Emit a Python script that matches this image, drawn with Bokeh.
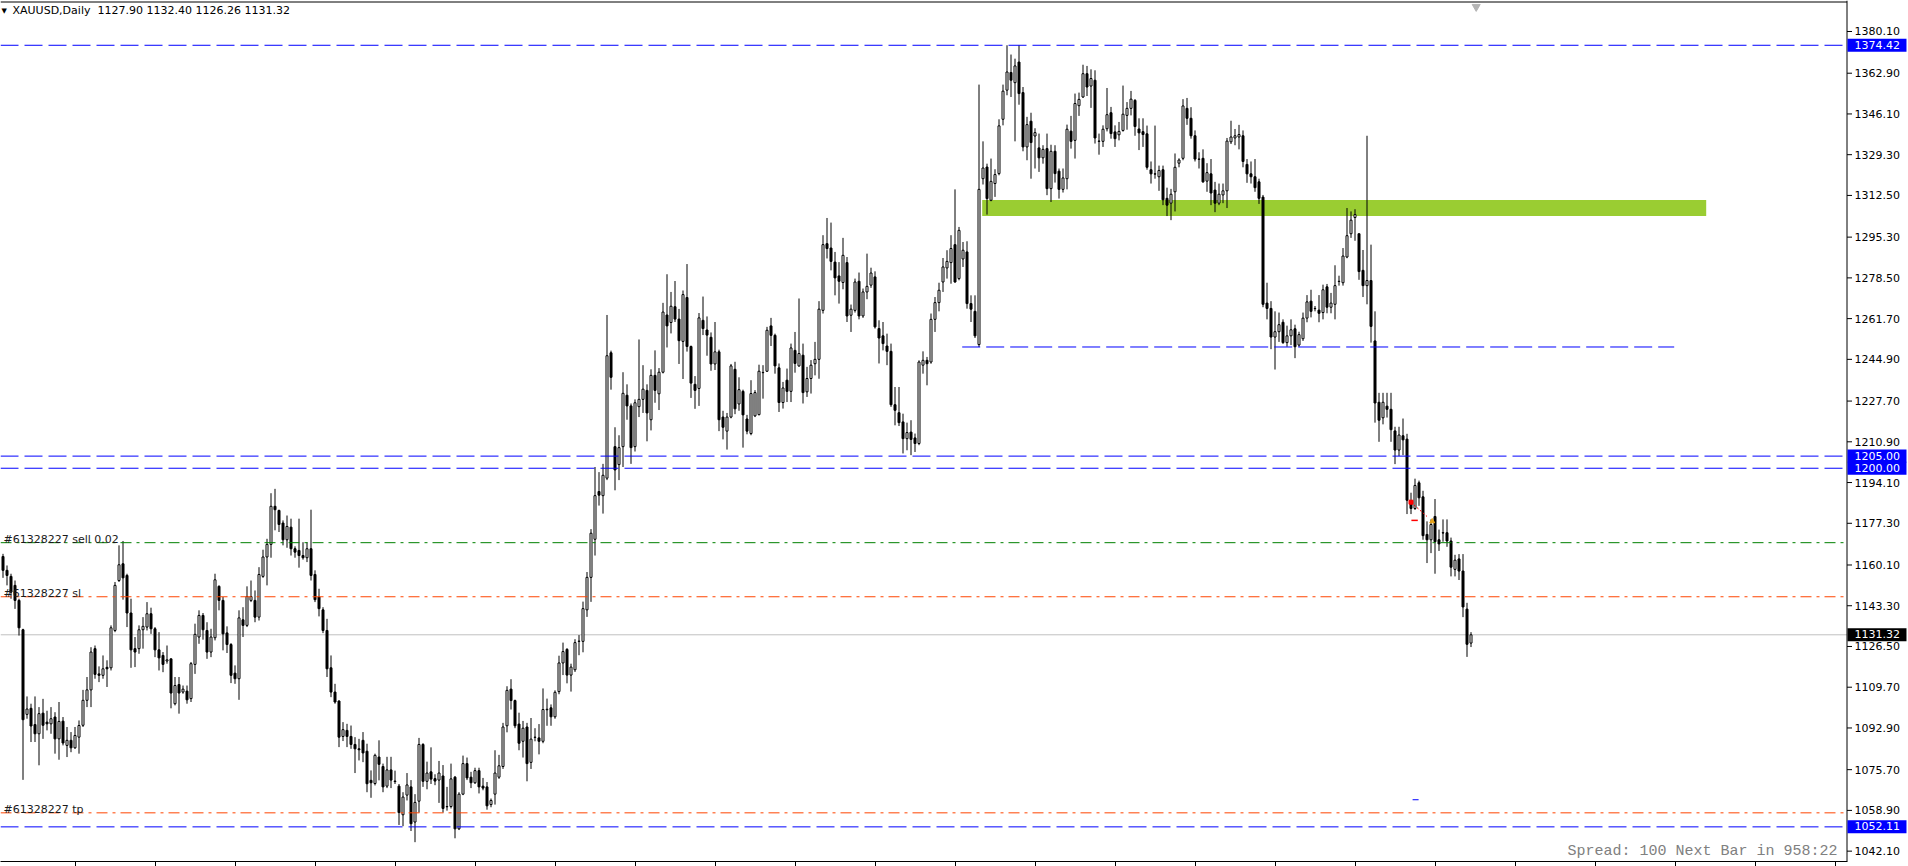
import numpy as np
from bokeh.plotting import figure
from bokeh.models import (Range1d, FixedTicker, PrintfTickFormatter, Span, Label, LabelSet,
                          ColumnDataSource, LinearAxis)
from bokeh.core.properties import value
from bokeh.embed import file_html
from bokeh.resources import INLINE

symbol = "XAUUSD,Daily"

opens = [
    1163.6, 1157.9, 1155.4, 1151.7, 1145.5, 1133.4, 1098.5, 1101.0, 1094.3, 1090.5,
    1099.0, 1095.3, 1094.6, 1097.4, 1088.4, 1095.7, 1085.7, 1087.8, 1084.7, 1089.1,
    1094.0, 1104.3, 1108.6, 1125.6, 1115.2, 1114.6, 1117.9, 1117.7, 1133.1, 1153.7,
    1160.6, 1155.8, 1140.3, 1125.6, 1125.6, 1133.4, 1134.5, 1140.0, 1133.8, 1125.1,
    1122.8, 1120.5, 1121.4, 1102.9, 1110.8, 1107.7, 1108.1, 1105.0, 1119.1, 1130.4,
    1139.3, 1133.1, 1124.2, 1130.1, 1151.3, 1145.5, 1132.1, 1127.3, 1115.5, 1113.2,
    1137.5, 1135.2, 1145.5, 1145.5, 1138.6, 1155.4, 1163.4, 1168.6, 1184.3, 1182.6,
    1177.4, 1170.5, 1175.7, 1166.8, 1166.1, 1164.0, 1163.1, 1166.8, 1156.2, 1146.9,
    1141.6, 1133.1, 1117.7, 1107.7, 1104.0, 1089.4, 1091.9, 1089.4, 1086.1, 1084.3,
    1087.8, 1083.3, 1071.3, 1070.0, 1080.9, 1077.0, 1068.9, 1075.6, 1071.0, 1068.9,
    1057.1, 1065.2, 1068.6, 1054.1, 1062.7, 1086.1, 1070.9, 1074.8, 1072.0, 1071.4,
    1073.1, 1060.4, 1060.5, 1072.6, 1051.3, 1065.6, 1078.2, 1072.6, 1070.3, 1075.3,
    1068.9, 1068.6, 1061.3, 1065.6, 1072.6, 1077.0, 1093.8, 1108.9, 1104.2, 1094.5,
    1087.4, 1093.3, 1078.7, 1089.0, 1088.8, 1087.4, 1100.4, 1101.2, 1097.5, 1107.9,
    1119.7, 1125.3, 1114.7, 1116.9, 1128.6, 1128.6, 1141.6, 1155.0, 1170.7, 1190.4,
    1188.7, 1195.9, 1247.6, 1208.9, 1201.5, 1208.9, 1230.1, 1225.7, 1208.9, 1225.4,
    1228.4, 1232.1, 1220.0, 1238.3, 1230.7, 1239.6, 1263.2, 1260.1, 1266.6, 1261.5,
    1252.3, 1270.4, 1250.2, 1234.6, 1232.9, 1261.0, 1257.0, 1254.0, 1243.0, 1248.0,
    1221.1, 1215.3, 1221.1, 1240.8, 1226.5, 1231.7, 1220.3, 1214.3, 1221.6, 1222.1,
    1239.4, 1240.0, 1258.7, 1254.8, 1241.4, 1227.1, 1236.3, 1231.7, 1248.6, 1242.2,
    1246.6, 1231.5, 1237.0, 1243.1, 1244.9, 1265.1, 1292.6, 1290.8, 1285.0, 1279.3,
    1276.6, 1284.8, 1263.1, 1265.1, 1277.1, 1262.8, 1272.7, 1275.5, 1278.9, 1257.6,
    1254.6, 1250.4, 1248.2, 1226.2, 1222.9, 1219.1, 1212.2, 1214.9, 1212.5, 1210.2,
    1242.5, 1244.5, 1243.8, 1261.4, 1268.3, 1276.8, 1282.6, 1284.8, 1292.2, 1278.2,
    1286.3, 1289.2, 1267.9, 1264.7, 1251.0, 1319.4, 1324.2, 1310.5, 1317.4, 1321.5,
    1343.9, 1355.9, 1363.2, 1359.0, 1367.5, 1354.9, 1332.5, 1343.1, 1337.0, 1332.1,
    1328.0, 1331.8, 1315.3, 1330.7, 1322.5, 1315.0, 1319.4, 1339.0, 1335.2, 1349.5,
    1353.1, 1362.7, 1357.6, 1360.0, 1334.9, 1334.8, 1340.0, 1346.6, 1338.7, 1337.5,
    1339.3, 1345.5, 1348.4, 1351.7, 1339.9, 1338.8, 1337.9, 1323.1, 1321.4, 1320.2,
    1323.1, 1311.3, 1309.3, 1314.0, 1325.8, 1327.8, 1348.4, 1344.3, 1337.1, 1327.5,
    1327.8, 1318.4, 1321.4, 1314.7, 1309.3, 1312.7, 1314.4, 1334.6, 1336.2, 1336.6,
    1337.1, 1325.3, 1321.4, 1320.2, 1318.1, 1311.8, 1268.1, 1265.9, 1254.1, 1256.3,
    1260.2, 1251.8, 1254.6, 1257.5, 1250.8, 1253.4, 1261.9, 1268.9, 1265.9, 1265.2,
    1264.2, 1274.8, 1266.4, 1267.6, 1277.0, 1276.5, 1287.1, 1296.7, 1303.4, 1296.7,
    1281.6, 1275.3, 1277.4, 1252.5, 1227.2, 1220.8, 1225.6, 1224.3, 1215.4, 1207.5,
    1213.4, 1212.0, 1186.5, 1183.4, 1194.0, 1188.2, 1172.7, 1170.5, 1180.1, 1170.5,
    1173.4, 1173.4, 1170.0, 1158.3, 1162.6, 1157.6, 1141.9, 1127.90,
]

highs = [
    1164.7, 1159.9, 1156.5, 1153.7, 1146.2, 1133.8, 1105.9, 1102.9, 1105.9, 1101.5,
    1104.9, 1100.0, 1101.5, 1099.4, 1103.6, 1097.4, 1093.3, 1091.2, 1093.3, 1096.0,
    1108.6, 1113.9, 1126.2, 1126.9, 1118.3, 1122.8, 1120.8, 1135.2, 1153.1, 1168.2,
    1170.0, 1156.5, 1146.2, 1130.4, 1135.2, 1138.6, 1144.8, 1142.5, 1134.5, 1132.4,
    1124.2, 1126.9, 1121.4, 1113.9, 1113.9, 1110.4, 1110.4, 1120.1, 1135.9, 1141.4,
    1140.3, 1136.5, 1133.8, 1156.5, 1151.7, 1146.9, 1134.8, 1127.9, 1118.7, 1141.4,
    1142.7, 1151.3, 1153.7, 1149.6, 1159.2, 1166.4, 1170.9, 1189.7, 1191.5, 1182.9,
    1178.5, 1180.5, 1179.2, 1167.8, 1179.2, 1169.5, 1169.5, 1182.9, 1157.9, 1150.3,
    1142.7, 1137.9, 1122.8, 1111.1, 1104.3, 1095.3, 1094.6, 1093.9, 1089.1, 1088.4,
    1091.2, 1086.4, 1075.4, 1082.3, 1087.8, 1078.2, 1081.0, 1081.0, 1075.3, 1069.8,
    1066.4, 1074.3, 1071.4, 1065.6, 1088.8, 1086.6, 1079.0, 1084.9, 1073.8, 1079.3,
    1077.6, 1068.6, 1078.2, 1073.1, 1066.4, 1081.5, 1080.7, 1074.8, 1076.5, 1076.5,
    1072.3, 1070.6, 1063.8, 1083.7, 1081.8, 1095.0, 1110.1, 1113.0, 1104.6, 1099.2,
    1095.8, 1095.0, 1097.0, 1092.8, 1094.5, 1109.2, 1105.0, 1102.6, 1108.4, 1122.7,
    1128.1, 1125.8, 1119.4, 1129.5, 1131.2, 1145.0, 1157.2, 1174.9, 1200.5, 1198.4,
    1201.8, 1263.2, 1248.5, 1216.9, 1213.6, 1239.6, 1234.6, 1226.7, 1228.4, 1253.1,
    1242.5, 1234.6, 1240.8, 1248.6, 1241.3, 1268.2, 1280.0, 1272.7, 1277.2, 1265.7,
    1273.3, 1284.2, 1250.6, 1238.0, 1264.0, 1270.8, 1262.6, 1256.0, 1260.3, 1248.9,
    1223.7, 1222.8, 1243.0, 1243.9, 1237.5, 1232.4, 1222.0, 1236.3, 1232.2, 1242.7,
    1242.5, 1258.3, 1262.0, 1255.5, 1243.2, 1235.6, 1241.1, 1251.4, 1256.2, 1270.0,
    1251.4, 1241.8, 1244.6, 1252.1, 1268.9, 1296.1, 1303.2, 1301.3, 1289.2, 1285.0,
    1295.0, 1287.1, 1267.5, 1278.2, 1280.7, 1274.1, 1288.5, 1282.7, 1281.2, 1261.0,
    1260.3, 1255.5, 1251.4, 1233.5, 1233.5, 1222.5, 1218.8, 1219.8, 1214.3, 1244.5,
    1248.2, 1245.9, 1263.8, 1270.6, 1276.5, 1286.7, 1289.9, 1296.1, 1315.0, 1299.5,
    1293.3, 1293.6, 1271.3, 1271.3, 1358.2, 1334.8, 1325.6, 1327.7, 1323.3, 1343.9,
    1358.2, 1374.42, 1370.6, 1368.9, 1374.42, 1357.2, 1344.9, 1346.6, 1340.2, 1338.0,
    1333.2, 1338.0, 1333.4, 1333.2, 1323.6, 1323.6, 1341.7, 1345.3, 1354.5, 1354.9,
    1366.4, 1365.9, 1364.5, 1364.1, 1338.0, 1341.4, 1356.8, 1349.0, 1341.4, 1342.8,
    1357.8, 1351.0, 1355.6, 1352.2, 1344.3, 1344.3, 1341.3, 1326.5, 1341.3, 1324.8,
    1324.8, 1315.7, 1315.2, 1329.8, 1327.8, 1352.2, 1352.7, 1348.9, 1339.3, 1330.3,
    1331.5, 1325.8, 1327.5, 1318.1, 1317.4, 1317.4, 1336.2, 1343.3, 1339.9, 1341.6,
    1339.3, 1327.5, 1326.5, 1327.5, 1319.4, 1312.7, 1276.5, 1268.9, 1264.7, 1264.2,
    1261.4, 1258.8, 1261.4, 1259.2, 1256.3, 1264.2, 1271.4, 1273.6, 1266.9, 1271.4,
    1275.7, 1276.0, 1272.3, 1283.7, 1279.4, 1290.8, 1307.3, 1305.9, 1306.8, 1296.7,
    1290.0, 1337.1, 1292.2, 1264.7, 1231.1, 1231.1, 1231.1, 1231.1, 1217.1, 1217.1,
    1220.5, 1214.2, 1189.9, 1195.7, 1194.9, 1190.7, 1178.1, 1178.9, 1187.3, 1174.7,
    1178.9, 1178.9, 1171.4, 1164.3, 1164.6, 1164.6, 1144.5, 1132.40,
]

lows = [
    1154.8, 1151.7, 1146.2, 1142.0, 1131.0, 1071.5, 1096.7, 1087.1, 1087.1, 1077.5,
    1088.4, 1091.9, 1090.5, 1082.3, 1079.8, 1085.7, 1080.9, 1082.9, 1084.3, 1082.3,
    1093.3, 1101.5, 1101.5, 1113.2, 1111.8, 1113.2, 1109.8, 1116.6, 1132.4, 1153.1,
    1145.8, 1134.5, 1117.7, 1118.0, 1123.5, 1125.6, 1133.1, 1131.7, 1122.1, 1116.6,
    1115.9, 1119.4, 1101.0, 1102.2, 1098.8, 1107.0, 1102.9, 1103.6, 1115.2, 1127.6,
    1129.3, 1121.4, 1122.1, 1129.0, 1141.4, 1124.9, 1123.8, 1111.4, 1111.1, 1104.5,
    1130.4, 1134.5, 1144.8, 1136.5, 1137.2, 1154.8, 1151.7, 1163.1, 1174.4, 1173.7,
    1168.2, 1167.2, 1164.0, 1163.1, 1159.0, 1162.3, 1161.3, 1153.7, 1144.8, 1138.9,
    1132.0, 1113.9, 1105.6, 1102.9, 1085.0, 1087.5, 1085.0, 1084.3, 1074.3, 1079.5,
    1078.8, 1066.4, 1064.1, 1069.2, 1071.3, 1066.4, 1068.1, 1068.1, 1069.8, 1052.9,
    1052.4, 1063.0, 1050.4, 1045.8, 1058.0, 1068.6, 1067.6, 1069.8, 1069.3, 1062.0,
    1058.0, 1058.8, 1059.7, 1047.4, 1050.8, 1065.2, 1071.4, 1068.1, 1069.8, 1065.9,
    1067.2, 1059.2, 1060.2, 1061.3, 1071.9, 1076.0, 1091.1, 1100.5, 1092.8, 1083.7,
    1080.7, 1070.9, 1076.0, 1087.4, 1082.0, 1086.6, 1093.8, 1093.8, 1096.7, 1106.8,
    1114.7, 1111.3, 1107.9, 1116.0, 1122.9, 1124.1, 1138.7, 1144.9, 1164.0, 1184.6,
    1181.3, 1195.1, 1232.4, 1190.9, 1195.1, 1200.5, 1220.0, 1201.8, 1206.9, 1221.1,
    1222.8, 1211.1, 1215.6, 1227.0, 1224.0, 1239.1, 1249.8, 1255.6, 1260.3, 1243.0,
    1236.8, 1248.1, 1229.0, 1224.5, 1225.7, 1254.9, 1246.4, 1240.2, 1240.5, 1215.3,
    1211.9, 1207.7, 1220.6, 1222.3, 1223.7, 1208.5, 1214.0, 1213.6, 1221.1, 1221.8,
    1228.7, 1239.7, 1250.4, 1239.0, 1223.2, 1224.6, 1227.3, 1227.3, 1239.4, 1241.8,
    1226.7, 1229.4, 1230.8, 1238.3, 1236.9, 1263.8, 1286.5, 1281.6, 1271.3, 1267.9,
    1273.8, 1260.3, 1256.2, 1264.2, 1261.4, 1262.0, 1269.7, 1274.4, 1257.6, 1243.2,
    1248.6, 1242.5, 1225.3, 1217.7, 1217.4, 1206.1, 1207.4, 1205.4, 1206.7, 1209.5,
    1239.0, 1234.2, 1243.1, 1256.2, 1264.7, 1272.7, 1278.2, 1276.1, 1276.5, 1277.5,
    1283.0, 1265.8, 1260.3, 1253.7, 1250.0, 1317.0, 1304.6, 1310.1, 1311.9, 1320.8,
    1341.4, 1353.8, 1353.1, 1334.8, 1349.9, 1330.7, 1327.0, 1319.4, 1323.6, 1322.2,
    1325.6, 1312.6, 1309.8, 1317.8, 1311.2, 1313.7, 1315.0, 1331.8, 1327.7, 1345.3,
    1352.7, 1353.5, 1348.6, 1333.9, 1329.3, 1332.5, 1338.9, 1335.9, 1332.5, 1335.2,
    1338.8, 1339.6, 1345.5, 1337.1, 1331.2, 1332.5, 1323.1, 1317.4, 1319.4, 1314.4,
    1308.5, 1304.0, 1302.3, 1305.9, 1324.1, 1327.0, 1341.6, 1335.9, 1326.5, 1323.6,
    1317.7, 1314.0, 1308.5, 1305.6, 1308.5, 1309.3, 1307.3, 1333.7, 1333.2, 1331.5,
    1324.1, 1317.7, 1317.4, 1314.0, 1309.0, 1266.4, 1261.4, 1249.1, 1240.7, 1252.1,
    1251.3, 1250.1, 1250.8, 1245.4, 1250.1, 1252.5, 1260.2, 1262.2, 1264.7, 1260.2,
    1261.4, 1263.9, 1263.9, 1261.4, 1275.3, 1275.3, 1286.6, 1295.0, 1293.8, 1277.7,
    1270.6, 1267.6, 1251.8, 1218.8, 1210.9, 1218.1, 1220.9, 1210.9, 1201.7, 1205.0,
    1205.4, 1181.1, 1181.1, 1182.8, 1184.5, 1170.5, 1160.9, 1165.0, 1156.5, 1165.9,
    1169.7, 1167.6, 1155.4, 1155.4, 1153.9, 1138.6, 1122.2, 1126.26,
]

closes = [
    1157.9, 1155.8, 1148.9, 1145.5, 1134.2, 1096.3, 1100.7, 1093.7, 1090.5, 1098.8,
    1094.0, 1094.6, 1096.7, 1088.4, 1095.6, 1086.7, 1087.8, 1084.7, 1089.8, 1093.9,
    1104.3, 1108.6, 1124.2, 1115.0, 1114.6, 1117.3, 1117.3, 1134.2, 1151.7, 1160.2,
    1154.8, 1140.3, 1125.1, 1124.2, 1133.4, 1134.8, 1140.0, 1133.8, 1125.1, 1121.8,
    1119.1, 1121.0, 1107.3, 1110.4, 1107.3, 1108.9, 1104.5, 1119.4, 1131.5, 1139.3,
    1133.4, 1124.2, 1130.4, 1154.0, 1145.5, 1131.7, 1127.3, 1114.6, 1113.2, 1138.3,
    1135.2, 1147.1, 1147.1, 1138.6, 1156.2, 1163.4, 1168.6, 1184.3, 1182.9, 1176.8,
    1170.5, 1176.0, 1166.8, 1165.4, 1164.0, 1163.1, 1166.8, 1155.8, 1145.8, 1142.1,
    1133.1, 1117.3, 1107.7, 1103.6, 1089.1, 1092.2, 1089.4, 1086.1, 1084.3, 1083.9,
    1082.6, 1069.9, 1070.3, 1081.6, 1077.9, 1068.6, 1075.6, 1071.4, 1070.8, 1058.0,
    1064.4, 1069.4, 1053.4, 1062.2, 1086.1, 1070.9, 1074.3, 1071.8, 1071.0, 1074.3,
    1059.7, 1060.5, 1071.9, 1051.3, 1065.6, 1078.2, 1072.3, 1070.3, 1075.3, 1068.6,
    1068.1, 1060.8, 1063.0, 1074.3, 1077.3, 1093.3, 1108.4, 1104.2, 1093.8, 1086.6,
    1092.8, 1078.2, 1088.3, 1089.1, 1087.4, 1100.5, 1100.6, 1097.5, 1107.6, 1119.7,
    1124.4, 1114.7, 1118.0, 1128.1, 1128.7, 1142.1, 1155.0, 1173.2, 1188.7, 1188.9,
    1197.1, 1246.4, 1237.5, 1199.3, 1208.5, 1230.9, 1225.7, 1208.5, 1227.0, 1228.4,
    1232.6, 1222.8, 1238.3, 1232.1, 1239.6, 1264.4, 1258.7, 1266.8, 1261.5, 1252.6,
    1271.6, 1250.2, 1235.1, 1232.1, 1262.0, 1257.6, 1254.9, 1243.0, 1248.0, 1220.0,
    1216.9, 1221.1, 1242.2, 1224.5, 1232.4, 1222.0, 1215.3, 1230.8, 1231.2, 1240.0,
    1239.5, 1256.9, 1254.8, 1242.2, 1227.1, 1233.1, 1231.7, 1249.6, 1243.2, 1247.3,
    1231.2, 1237.0, 1242.5, 1244.9, 1265.6, 1292.2, 1290.6, 1285.3, 1278.5, 1277.1,
    1287.8, 1262.8, 1265.6, 1276.8, 1262.8, 1272.7, 1275.0, 1280.5, 1258.3, 1253.7,
    1251.4, 1248.2, 1226.2, 1223.9, 1218.8, 1212.2, 1214.7, 1211.9, 1210.2, 1243.8,
    1244.5, 1243.1, 1261.4, 1268.3, 1273.4, 1283.0, 1285.3, 1290.6, 1276.8, 1298.1,
    1289.9, 1267.9, 1265.6, 1254.6, 1315.0, 1323.8, 1311.2, 1318.3, 1321.1, 1341.2,
    1355.5, 1363.4, 1360.0, 1365.9, 1354.5, 1332.5, 1341.7, 1334.3, 1338.4, 1328.0,
    1331.5, 1315.3, 1330.7, 1321.5, 1315.0, 1319.7, 1339.8, 1334.8, 1350.4, 1352.1,
    1362.7, 1357.2, 1360.7, 1336.2, 1334.8, 1339.8, 1345.8, 1338.0, 1335.9, 1338.9,
    1346.0, 1348.4, 1352.2, 1340.9, 1338.3, 1337.6, 1324.1, 1321.4, 1321.3, 1322.8,
    1310.7, 1308.5, 1313.0, 1324.1, 1327.1, 1349.4, 1344.3, 1337.1, 1327.5, 1327.4,
    1318.1, 1321.9, 1313.5, 1309.3, 1313.0, 1314.4, 1334.9, 1336.6, 1337.1, 1337.6,
    1326.5, 1321.4, 1320.2, 1315.7, 1311.3, 1267.6, 1265.9, 1254.1, 1256.3, 1259.2,
    1251.8, 1254.6, 1257.1, 1250.1, 1255.1, 1261.9, 1268.6, 1264.7, 1265.8, 1263.9,
    1273.6, 1266.4, 1268.1, 1275.3, 1277.1, 1287.5, 1295.9, 1302.3, 1304.6, 1281.1,
    1275.3, 1277.4, 1258.5, 1226.9, 1219.8, 1227.2, 1224.3, 1215.9, 1207.5, 1213.7,
    1211.7, 1186.8, 1183.4, 1192.9, 1187.8, 1172.2, 1170.5, 1176.8, 1169.7, 1168.8,
    1173.3, 1170.0, 1159.2, 1162.1, 1157.6, 1142.8, 1127.4, 1131.32,
]

price_ticks = [1380.10, 1362.90, 1346.10, 1329.30, 1312.50, 1295.30, 1278.50, 1261.70,
               1244.90, 1227.70, 1210.90, 1194.10, 1177.30, 1160.10, 1143.30, 1126.50,
               1109.70, 1092.90, 1075.70, 1058.90, 1042.10]
time_ticks = [18, 38, 58, 78, 98, 118, 138, 158, 178, 198, 218, 238, 258, 278,
              298, 318, 338, 358, 378, 398, 418, 438, 458]

blue_levels = [1374.42, 1205.00, 1200.00, 1052.11]
last_price = 1131.32
order_id = "#61328227"
order_open = 1169.30
order_sl = 1147.00
order_tp = 1057.90
support_level = 1250.00
support_bars = [239.8, 417.8]
zone_low, zone_high = 1304.0, 1310.6
zone_bars = [244.8, 425.8]
trade_path_bars = [352.0, 356.0]
trade_path_prices = [1186.0, 1180.1]
trade_close_bars = [352.1, 353.7]
trade_close_price = 1178.5
trade_arrow_bar, trade_arrow_price = 357.3, 1178.1
stop_mark_bars = [352.4, 353.9]
stop_mark_price = 1063.3
shift_bar, shift_price = 368.3, 1390.3
spread_text = "Spread: 100 Next Bar in 958:22"

# ---- geometry (pixels -> data) ----
FRAME_W, FRAME_H = 1906, 861
BAR_PX = 4.0
y_lo = 1037.83
PX = 860 / (1392.47 - 1037.83)           # pixels per price unit
y_hi = y_lo + FRAME_H / PX
x_lo = -0.625
x_hi = x_lo + FRAME_W / BAR_PX
border_bar = x_lo + 1846.5 / BAR_PX       # vertical chart border (price scale line)
box_bar = x_lo + 1847.0 / BAR_PX          # left edge of the price boxes
tick_end_bar = x_lo + 1851.5 / BAR_PX     # end of the little price-scale ticks
top_line_price = y_hi - 1.5 / PX          # top border of the chart window

p = figure(frame_width=FRAME_W, frame_height=FRAME_H,
           x_range=Range1d(x_lo, x_hi), y_range=Range1d(y_lo, y_hi),
           y_axis_location=None, toolbar_location=None, output_backend="svg",
           min_border_left=0, min_border_right=2, min_border_top=0, min_border_bottom=5,
           background_fill_color="white", border_fill_color="white")
p.xgrid.visible = False
p.ygrid.visible = False
p.outline_line_color = None

xa = p.xaxis[0]
xa.ticker = FixedTicker(ticks=time_ticks)
xa.bounds = (x_lo, border_bar)
xa.major_label_text_font_size = "0px"
xa.major_label_text_color = None
xa.major_label_standoff = 0
xa.major_tick_out = 5
xa.major_tick_in = 0
xa.minor_tick_out = 0
xa.minor_tick_in = 0
xa.axis_line_color = "black"

FONT = "DejaVu Sans"
NB = "\u00a0"

# price scale: labels of a real axis, pulled back next to the chart border
ya = LinearAxis(ticker=FixedTicker(ticks=price_ticks),
                formatter=PrintfTickFormatter(format="%.2f"))
ya.major_label_text_font = FONT
ya.major_label_text_font_size = "11px"
ya.major_label_text_color = "black"
ya.major_tick_out = 0
ya.major_tick_in = 0
ya.minor_tick_out = 0
ya.minor_tick_in = 0
ya.major_label_standoff = -(FRAME_W - 1854)
ya.axis_line_color = None
p.add_layout(ya, "right")

# chart borders and price-scale ticks
p.add_layout(Span(location=border_bar, dimension="height", line_color="black", line_width=1))
p.segment(x0=[x_lo], y0=[top_line_price], x1=[border_bar], y1=[top_line_price],
          line_color="black", line_width=1)
p.segment(x0=[border_bar] * len(price_ticks), y0=price_ticks,
          x1=[tick_end_bar] * len(price_ticks), y1=price_ticks,
          line_color="black", line_width=1)

# support/resistance zone (background)
p.quad(left=[zone_bars[0]], right=[zone_bars[1]], bottom=[zone_low], top=[zone_high],
       fill_color="#9acd32", line_color=None)

# last price line (behind candles)
p.segment(x0=[x_lo], y0=[last_price], x1=[border_bar], y1=[last_price],
          line_color="#c0c0c0", line_width=1)

o = np.array(opens); h = np.array(highs); l = np.array(lows); c = np.array(closes)
src = ColumnDataSource(dict(
    x=np.arange(len(o)), h=h, l=l,
    top=np.maximum(o, c), bottom=np.minimum(o, c),
    fill=["white" if cc >= oo else "black" for oo, cc in zip(o, c)],
))
p.segment(x0="x", y0="h", x1="x", y1="l", source=src, line_color="black", line_width=1)
p.vbar(x="x", width=0.5, top="top", bottom="bottom", fill_color="fill",
       line_color="black", line_width=1, source=src)

# horizontal levels (stop at the price scale border)
n_blue = len(blue_levels)
p.segment(x0=[x_lo] * n_blue, y0=blue_levels, x1=[border_bar] * n_blue, y1=blue_levels,
          line_color="#0000ff", line_width=1, line_dash="18 6")
p.segment(x0=[x_lo], y0=[order_open], x1=[border_bar], y1=[order_open],
          line_color="#008000", line_width=1, line_dash="11 5 3 5")
p.segment(x0=[x_lo, x_lo], y0=[order_sl, order_tp], x1=[border_bar, border_bar],
          y1=[order_sl, order_tp], line_color="#ff4500", line_width=1, line_dash="11 5 3 5")

p.segment(x0=[support_bars[0]], y0=[support_level], x1=[support_bars[1]], y1=[support_level],
          line_color="#0000ff", line_width=1, line_dash="18 6")

# trade history marks
p.line(x=trade_path_bars, y=trade_path_prices, line_color="red", line_width=1, line_dash="2 2")
p.scatter(x=[trade_path_bars[0]], y=[trade_path_prices[0]], marker="square", size=4,
          fill_color="red", line_color="red")
p.segment(x0=[trade_close_bars[0]], y0=[trade_close_price], x1=[trade_close_bars[1]],
          y1=[trade_close_price], line_color="red", line_width=1.5)
p.scatter(x=[trade_arrow_bar], y=[trade_arrow_price], marker="triangle", size=5,
          fill_color="#e8a317", line_color="#e8a317")
p.segment(x0=[stop_mark_bars[0]], y0=[stop_mark_price], x1=[stop_mark_bars[1]],
          y1=[stop_mark_price], line_color="#0000ff", line_width=1)
p.scatter(x=[shift_bar], y=[shift_price], marker="inverted_triangle", size=8,
          fill_color="#b4b4b4", line_color="#b4b4b4")

# price boxes on the price scale
box_levels = blue_levels + [last_price]
box_colors = ["#0000ff"] * n_blue + ["black"]
box_src = ColumnDataSource(dict(
    x=[box_bar] * len(box_levels), y=box_levels,
    text=[f"{NB}{NB}{v:.2f}{NB}{NB}" for v in box_levels],
    bg=box_colors,
))
p.add_layout(LabelSet(x="x", y="y", text="text", source=box_src,
                      x_units="data", y_units="data",
                      text_font=value(FONT), text_font_size=value("11px"),
                      text_color="white", text_baseline="middle", text_align="left",
                      background_fill_color="bg"))

# texts
title = (f"{symbol}{NB}{NB}{opens[-1]:.2f} {highs[-1]:.2f} "
         f"{lows[-1]:.2f} {closes[-1]:.2f}")
p.add_layout(Label(x=1, y=851, x_units="screen", y_units="screen", text="\u25bc",
                   text_font=FONT, text_font_size="7px", text_color="black",
                   text_baseline="middle"))
p.add_layout(Label(x=12, y=851, x_units="screen", y_units="screen", text=title,
                   text_font=FONT, text_font_size="11px", text_color="black",
                   text_baseline="middle"))

for txt, lvl in [(f"{order_id} sell 0.02", order_open), (f"{order_id} sl", order_sl),
                 (f"{order_id} tp", order_tp)]:
    p.add_layout(Label(x=3, y=lvl, x_units="screen", y_units="data", text=txt,
                       text_font=FONT, text_font_size="11px", text_color="#1a1a1a",
                       text_baseline="alphabetic", y_offset=3))

p.add_layout(Label(x=1837, y=10, x_units="screen", y_units="screen", text=spread_text,
                   text_font="Liberation Mono", text_font_size="15px", text_color="#808080",
                   text_align="right", text_baseline="middle"))

open("out.html", "w").write(file_html(p, INLINE))
